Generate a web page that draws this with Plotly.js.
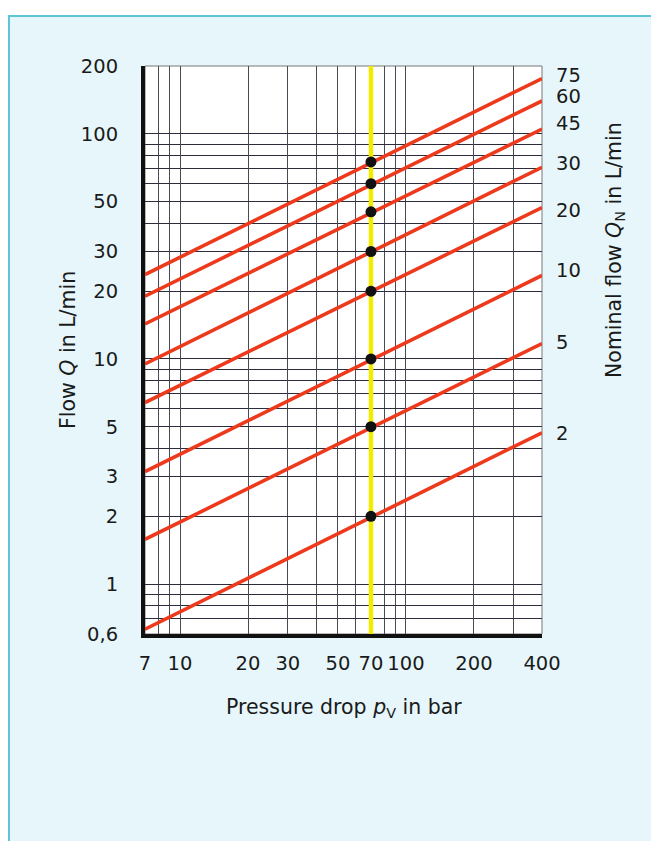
<!DOCTYPE html>
<html>
<head>
<meta charset="utf-8">
<script src="https://cdn.plot.ly/plotly-3.0.1.min.js"></script>
<style>
  html, body { margin: 0; padding: 0; background: #ffffff; }
  #chart { width: 651px; height: 841px; }
</style>
</head>
<body>
<div id="chart"></div>
<script>
// ---- data ----
const pressureTicks  = [7, 10, 20, 30, 50, 70, 100, 200, 400];
const pressureLabels = ['7', '10', '20', '30', '50', '70', '100', '200', '400'];
const pressureMinorGrid = [8, 9, 40, 60, 80, 90, 300];
const flowTicks  = [0.6, 1, 2, 3, 5, 10, 20, 30, 50, 100, 200];
const flowLabels = ['0,6', '1', '2', '3', '5', '10', '20', '30', '50', '100', '200'];
const flowMinorGrid = [0.7, 0.8, 0.9, 4, 6, 7, 8, 9, 40, 60, 70, 80, 90];

const nominalFlow = [75, 60, 45, 30, 20, 10, 5, 2];           // Q_N, L/min
const linePressure = [7, 400];                                // bar, line ends
const flowAtStart = [23.7, 19.0, 14.3, 9.5, 6.4, 3.16, 1.58, 0.63]; // Q at 7 bar
const flowAtEnd   = [176, 140, 105, 71, 47, 23.5, 11.7, 4.7];       // Q at 400 bar
const nominalPressure = 70;                                    // bar (yellow line / dots)
const nominalLabelPos = [182, 147, 112, 74, 46, 24.7, 11.9, 4.7];   // right-axis label heights
const pressureRange = [7, 400];
const flowRange = [0.6, 200];

// ---- build traces ----
const traces = [];
traces.push({
  x: [nominalPressure, nominalPressure], y: flowRange,
  mode: 'lines', line: {color: '#f4ec00', width: 4.5},
  hoverinfo: 'skip', showlegend: false
});
nominalFlow.forEach((q, i) => {
  traces.push({
    x: linePressure, y: [flowAtStart[i], flowAtEnd[i]],
    mode: 'lines', line: {color: '#ee3a1c', width: 3.6},
    name: 'Q_N ' + q, showlegend: false
  });
});
traces.push({
  x: nominalFlow.map(() => nominalPressure), y: nominalFlow,
  mode: 'markers', marker: {color: '#111111', size: 11},
  showlegend: false
});
// invisible trace to carry the right axis
traces.push({
  x: [nominalPressure], y: [nominalFlow[0]], yaxis: 'y2',
  mode: 'markers', marker: {opacity: 0}, hoverinfo: 'skip', showlegend: false
});

const L = 145, R = 542, T = 66, B = 634, W = 651, H = 841;
const px = v => (v - L) / (R - L);
const py = v => (B - v) / (B - T);
const FAM = 'DejaVu Sans, Liberation Sans, Arial, sans-serif';
const tickFont = {family: FAM, size: 19.5, color: '#1a1a1a'};
const titleFont = {family: FAM, size: 20.5, color: '#1a1a1a'};

const layout = {
  width: W, height: H,
  margin: {l: L, r: W - R, t: T, b: H - B, pad: 0},
  paper_bgcolor: '#ffffff',
  plot_bgcolor: '#ffffff',
  showlegend: false,
  xaxis: {
    type: 'log', range: pressureRange.map(Math.log10),
    tickmode: 'array', tickvals: pressureTicks, ticktext: pressureLabels,
    ticks: '', ticklabelstandoff: 9,
    showgrid: true, gridcolor: '#4a4a55', gridwidth: 1,
    minor: {tickmode: 'array', tickvals: pressureMinorGrid, ticks: '',
            showgrid: true, gridcolor: '#4a4a55', gridwidth: 1},
    showline: true, linecolor: '#111111', linewidth: 4,
    tickfont: tickFont, zeroline: false, fixedrange: true
  },
  yaxis: {
    type: 'log', range: flowRange.map(Math.log10),
    tickmode: 'array', tickvals: flowTicks, ticktext: flowLabels,
    ticks: '', ticklabelstandoff: 19,
    showgrid: true, gridcolor: '#2c2c3c', gridwidth: 1,
    minor: {tickmode: 'array', tickvals: flowMinorGrid, ticks: '',
            showgrid: true, gridcolor: '#2c2c3c', gridwidth: 1},
    showline: true, linecolor: '#111111', linewidth: 4,
    tickfont: tickFont, zeroline: false, fixedrange: true
  },
  yaxis2: {
    type: 'log', range: flowRange.map(Math.log10), overlaying: 'y', side: 'right',
    tickmode: 'array', tickvals: nominalLabelPos, ticktext: nominalFlow.map(String),
    ticks: '', ticklabelstandoff: 13, showgrid: false, zeroline: false,
    showline: false, tickfont: tickFont, fixedrange: true
  },
  shapes: [
    {type: 'rect', xref: 'paper', yref: 'paper', layer: 'below',
     x0: px(9), x1: px(W + 10), y0: py(H + 10), y1: py(16),
     fillcolor: '#e6f6fb', line: {color: '#5cc6d6', width: 2}},
    {type: 'rect', xref: 'paper', yref: 'paper', layer: 'below',
     x0: 0, x1: 1, y0: 0, y1: 1,
     fillcolor: '#ffffff', line: {color: '#777777', width: 1}}
  ],
  annotations: [
    {xref: 'paper', yref: 'paper', x: px(68), y: 0.5, textangle: -90,
     xanchor: 'center', yanchor: 'middle', showarrow: false,
     text: 'Flow <i>Q</i> in L/min', font: titleFont},
    {xref: 'paper', yref: 'paper', x: px(615), y: py(250), textangle: -90,
     xanchor: 'center', yanchor: 'middle', showarrow: false,
     text: 'Nominal flow <i>Q</i><sub>N</sub> in L/min', font: titleFont},
    {xref: 'paper', yref: 'paper', x: px(344), y: py(708),
     xanchor: 'center', yanchor: 'middle', showarrow: false,
     text: 'Pressure drop <i>p</i><sub>V</sub> in bar', font: titleFont}
  ]
};

Plotly.newPlot('chart', traces, layout, {staticPlot: true, displayModeBar: false});
</script>
</body>
</html>
